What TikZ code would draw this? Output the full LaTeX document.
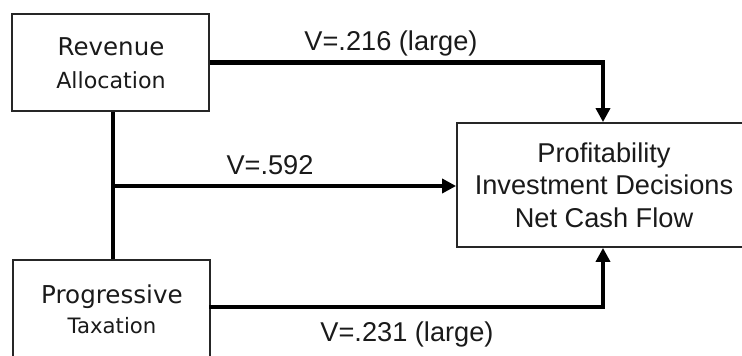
\documentclass[tikz,border=0pt]{standalone}
\usepackage{fontspec}
\setmainfont{Liberation Sans}
\newfontfamily\dejavu{DejaVu Sans}
\usetikzlibrary{arrows.meta}
\definecolor{txt}{HTML}{1A1A1A}
\tikzset{
  boxstyle/.style={draw=black!85, line width=1.8pt, fill=white, inner sep=0pt},
  conn/.style={line width=4.2pt, black},
  arr/.style={conn, -{Triangle[length=14pt,width=14pt]}},
  lbl/.style={font=\fontsize{27.2}{30}\selectfont, text=txt, inner sep=0pt},
}
\begin{document}
\begin{tikzpicture}[x=1pt,y=-1pt]
\useasboundingbox (0,0) rectangle (742,356);
% boxes
\node[boxstyle, minimum width=197pt, minimum height=97pt] (A) at (110.5,62.5) {};
\node[boxstyle, anchor=north west, minimum width=197pt, minimum height=140pt] (B) at (12,259) {};
\node[boxstyle, minimum width=294pt, minimum height=124pt, align=center, text=txt,
      font=\fontsize{27.2}{32.5}\selectfont] (C) at (604,185)
  {Profitability\\Investment Decisions\\Net Cash Flow};
% box texts
\node[text=txt, align=center, inner sep=0pt, anchor=base] (At1) at (111,55) {\dejavu\fontsize{24.5}{24}\selectfont Revenue};
\node[text=txt, align=center, inner sep=0pt, anchor=base] (At2) at (111,88) {\dejavu\fontsize{22.2}{22}\selectfont Allocation};
\node[text=txt, align=center, inner sep=0pt, anchor=base] (Bt1) at (112,303) {\dejavu\fontsize{24.6}{24}\selectfont Progressive};
\node[text=txt, align=center, inner sep=0pt, anchor=base] (Bt2) at (112,333) {\dejavu\fontsize{21.2}{21}\selectfont Taxation};
% coordinates
\coordinate (a1) at (A.east);
\coordinate (t1) at (603,62.5);
\coordinate (b1) at (209,307);
\coordinate (t2) at (603,307);
\coordinate (m1) at (113,186);
% connectors
\draw[arr] (a1) -- (t1) -- (C.north -| t1);
\draw[arr] (b1) -- (t2) -- (C.south -| t2);
\draw[conn] (A.south -| m1) -- (B.north -| m1);
\draw[arr] (m1) -- (m1 -| C.west);
% labels
\node[lbl] (L1) at (391,43) {V=.216 (large)};
\node[lbl] (L2) at (270,165) {V=.592};
\node[lbl] (L3) at (407,334) {V=.231 (large)};
\end{tikzpicture}
\end{document}
